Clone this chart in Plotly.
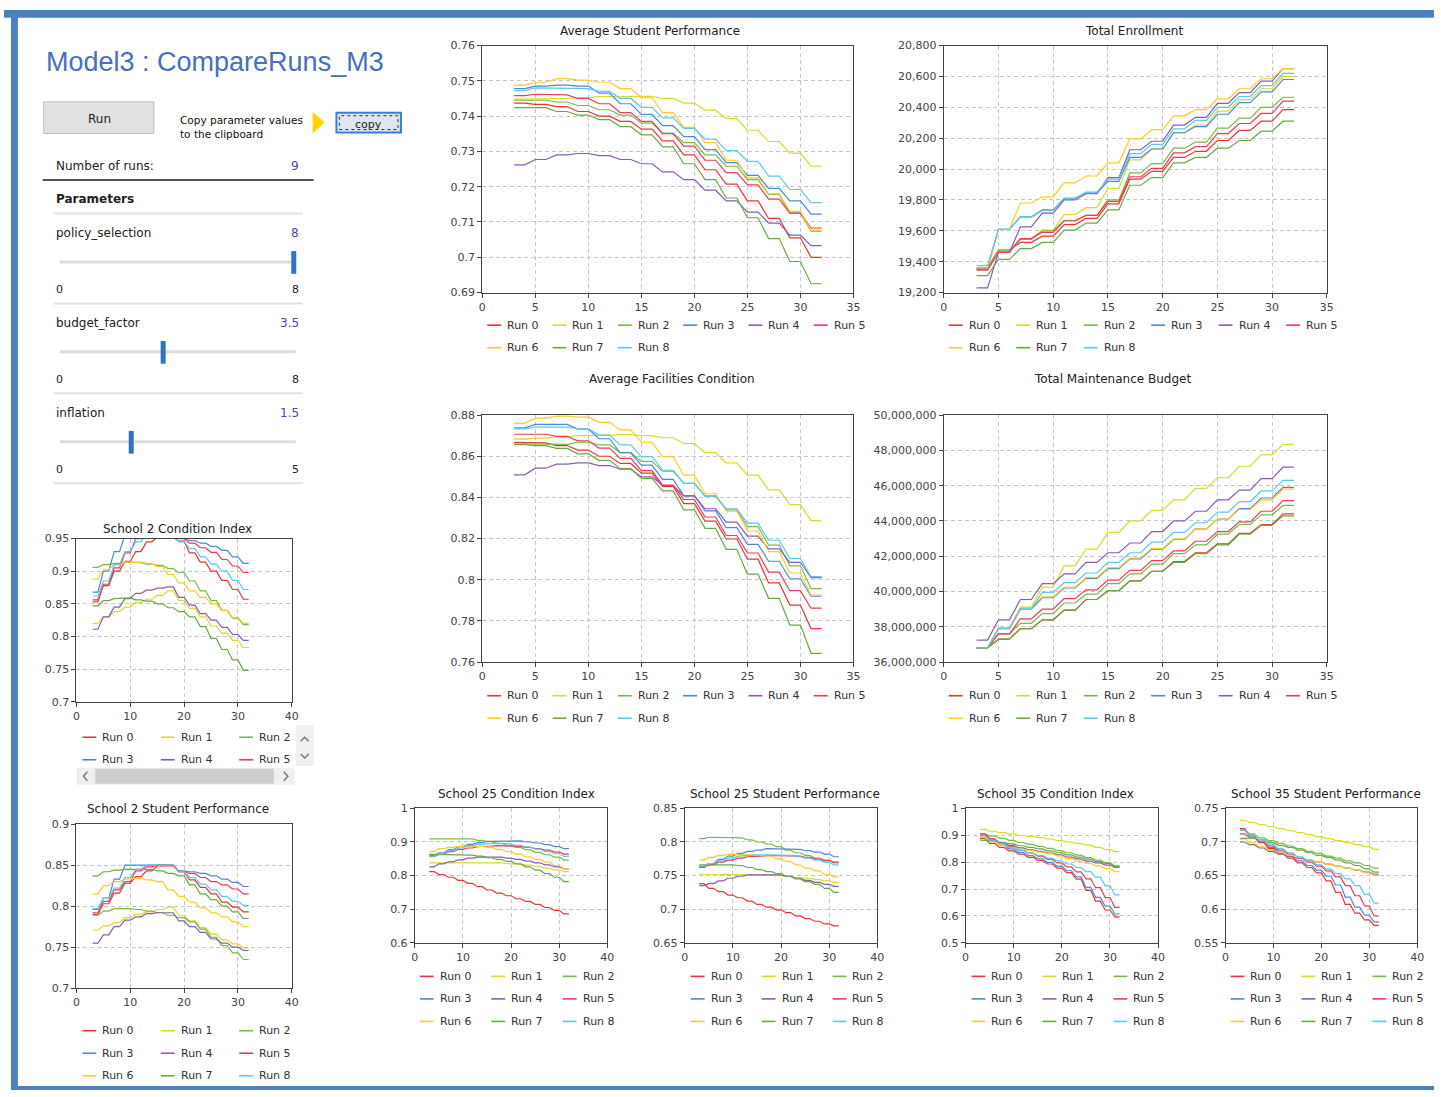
import plotly.graph_objects as go

W, H = 1441, 1097

runs = ["Run 0", "Run 1", "Run 2", "Run 3", "Run 4", "Run 5", "Run 6", "Run 7", "Run 8"]
run_colors = ["#ee3333", "#dada2a", "#77bb44", "#4a8ad8", "#8a5cb4",
              "#ee3a5c", "#ffcc22", "#66aa44", "#5cc8ee"]

# each value is a plateau held from x to x+1
step_x = [3, 5, 7, 9, 11, 13, 15, 17, 19, 21, 23, 25, 27, 29, 31]

avg_student_perf = [
    [0.7437, 0.7433, 0.7427, 0.7413, 0.7400, 0.7385, 0.7363, 0.7330, 0.7290, 0.7248, 0.7207, 0.7160, 0.7110, 0.7055, 0.7000],
    [0.7448, 0.7450, 0.7450, 0.7452, 0.7455, 0.7457, 0.7456, 0.7450, 0.7437, 0.7417, 0.7393, 0.7360, 0.7328, 0.7295, 0.7258],
    [0.7445, 0.7445, 0.7440, 0.7430, 0.7418, 0.7403, 0.7380, 0.7352, 0.7325, 0.7290, 0.7258, 0.7220, 0.7178, 0.7125, 0.7074],
    [0.7478, 0.7485, 0.7488, 0.7485, 0.7465, 0.7435, 0.7405, 0.7373, 0.7342, 0.7305, 0.7268, 0.7232, 0.7195, 0.7160, 0.7122],
    [0.7262, 0.7277, 0.7290, 0.7294, 0.7288, 0.7277, 0.7265, 0.7242, 0.7220, 0.7190, 0.7160, 0.7128, 0.7097, 0.7063, 0.7033],
    [0.7458, 0.7462, 0.7460, 0.7450, 0.7435, 0.7410, 0.7385, 0.7350, 0.7315, 0.7275, 0.7240, 0.7205, 0.7165, 0.7125, 0.7083],
    [0.7488, 0.7496, 0.7506, 0.7502, 0.7496, 0.7478, 0.7452, 0.7410, 0.7368, 0.7325, 0.7275, 0.7225, 0.7180, 0.7130, 0.7077],
    [0.7424, 0.7424, 0.7413, 0.7403, 0.7390, 0.7370, 0.7347, 0.7313, 0.7265, 0.7220, 0.7168, 0.7112, 0.7053, 0.6988, 0.6925],
    [0.7472, 0.7480, 0.7480, 0.7478, 0.7470, 0.7450, 0.7425, 0.7395, 0.7365, 0.7335, 0.7302, 0.7272, 0.7230, 0.7192, 0.7155],
]

total_enrollment = [
    [19360, 19475, 19525, 19565, 19640, 19680, 19775, 19935, 19985, 20075, 20115, 20185, 20250, 20310, 20385],
    [19350, 19470, 19550, 19605, 19705, 19750, 19875, 20060, 20130, 20235, 20285, 20375, 20450, 20520, 20600],
    [19350, 19470, 19545, 19600, 19665, 19700, 19800, 19975, 20035, 20135, 20175, 20265, 20330, 20400, 20465],
    [19355, 19610, 19690, 19735, 19810, 19845, 19920, 20075, 20130, 20235, 20275, 20355, 20430, 20500, 20580],
    [19230, 19460, 19625, 19715, 19800, 19840, 19945, 20125, 20180, 20285, 20335, 20425, 20495, 20570, 20650],
    [19345, 19460, 19550, 19590, 19665, 19700, 19790, 19950, 20005, 20105, 20145, 20230, 20295, 20360, 20440],
    [19360, 19610, 19780, 19820, 19910, 19955, 20040, 20195, 20255, 20345, 20385, 20455, 20520, 20585, 20650],
    [19310, 19415, 19485, 19525, 19605, 19650, 19735, 19895, 19945, 20040, 20075, 20135, 20185, 20245, 20310],
    [19375, 19610, 19690, 19730, 19810, 19850, 19935, 20100, 20160, 20260, 20315, 20400, 20470, 20540, 20620],
]

avg_facilities = [
    [0.8667, 0.8665, 0.8652, 0.8630, 0.8600, 0.8565, 0.8518, 0.8453, 0.8370, 0.8285, 0.8198, 0.8100, 0.7985, 0.7877, 0.7763],
    [0.8683, 0.8688, 0.8693, 0.8700, 0.8703, 0.8705, 0.8700, 0.8690, 0.8662, 0.8618, 0.8568, 0.8508, 0.8437, 0.8365, 0.8287],
    [0.8660, 0.8660, 0.8658, 0.8668, 0.8655, 0.8618, 0.8575, 0.8528, 0.8468, 0.8408, 0.8340, 0.8258, 0.8168, 0.8068, 0.7957],
    [0.8738, 0.8755, 0.8755, 0.8732, 0.8685, 0.8617, 0.8557, 0.8488, 0.8408, 0.8335, 0.8253, 0.8172, 0.8090, 0.8005, 0.7920],
    [0.8510, 0.8542, 0.8562, 0.8568, 0.8555, 0.8537, 0.8500, 0.8458, 0.8408, 0.8345, 0.8280, 0.8212, 0.8150, 0.8085, 0.8010],
    [0.8707, 0.8707, 0.8697, 0.8675, 0.8640, 0.8590, 0.8530, 0.8460, 0.8390, 0.8305, 0.8215, 0.8130, 0.8037, 0.7947, 0.7862],
    [0.8760, 0.8785, 0.8795, 0.8790, 0.8765, 0.8728, 0.8668, 0.8598, 0.8508, 0.8418, 0.8333, 0.8237, 0.8137, 0.8033, 0.7925],
    [0.8657, 0.8652, 0.8638, 0.8612, 0.8580, 0.8540, 0.8493, 0.8432, 0.8340, 0.8250, 0.8148, 0.8027, 0.7910, 0.7780, 0.7643],
    [0.8733, 0.8742, 0.8742, 0.8733, 0.8703, 0.8655, 0.8598, 0.8532, 0.8468, 0.8405, 0.8345, 0.8275, 0.8192, 0.8103, 0.8015],
]

maintenance_budget = [
    [36.80e6, 37.30e6, 37.90e6, 38.40e6, 38.95e6, 39.55e6, 40.05e6, 40.60e6, 41.15e6, 41.70e6, 42.20e6, 42.70e6, 43.30e6, 43.80e6, 44.40e6],
    [36.80e6, 37.95e6, 39.10e6, 40.25e6, 41.45e6, 42.40e6, 43.35e6, 44.00e6, 44.60e6, 45.20e6, 45.85e6, 46.45e6, 47.10e6, 47.75e6, 48.34e6],
    [36.80e6, 37.60e6, 38.20e6, 38.75e6, 39.35e6, 39.85e6, 40.45e6, 41.00e6, 41.55e6, 42.15e6, 42.65e6, 43.25e6, 43.80e6, 44.35e6, 44.88e6],
    [36.80e6, 37.90e6, 39.00e6, 39.65e6, 40.20e6, 40.75e6, 41.30e6, 41.85e6, 42.40e6, 42.95e6, 43.55e6, 44.10e6, 44.70e6, 45.30e6, 45.90e6],
    [37.25e6, 38.40e6, 39.55e6, 40.45e6, 41.00e6, 41.65e6, 42.20e6, 42.75e6, 43.40e6, 44.00e6, 44.55e6, 45.20e6, 45.75e6, 46.40e6, 47.05e6],
    [36.80e6, 37.60e6, 38.45e6, 39.00e6, 39.60e6, 40.10e6, 40.65e6, 41.20e6, 41.75e6, 42.30e6, 42.85e6, 43.40e6, 43.95e6, 44.55e6, 45.15e6],
    [36.80e6, 37.95e6, 39.10e6, 39.70e6, 40.25e6, 40.80e6, 41.35e6, 41.90e6, 42.45e6, 42.98e6, 43.55e6, 44.10e6, 44.65e6, 45.20e6, 45.80e6],
    [36.80e6, 37.30e6, 37.90e6, 38.40e6, 38.95e6, 39.55e6, 40.05e6, 40.60e6, 41.15e6, 41.65e6, 42.15e6, 42.65e6, 43.25e6, 43.75e6, 44.29e6],
    [36.80e6, 37.90e6, 39.00e6, 39.95e6, 40.50e6, 41.05e6, 41.65e6, 42.20e6, 42.80e6, 43.35e6, 43.90e6, 44.50e6, 45.10e6, 45.70e6, 46.30e6],
]

school2_condition = [
    [0.856, 0.878, 0.900, 0.915, 0.930, 0.945, 0.952, 0.952, 0.946, 0.928, 0.914, 0.900, 0.886, 0.872, 0.857],
    [0.820, 0.830, 0.838, 0.845, 0.852, 0.857, 0.863, 0.870, 0.855, 0.843, 0.830, 0.816, 0.805, 0.794, 0.783],
    [0.906, 0.910, 0.912, 0.914, 0.913, 0.911, 0.909, 0.904, 0.898, 0.885, 0.870, 0.855, 0.840, 0.828, 0.818],
    [0.868, 0.900, 0.930, 0.955, 0.970, 0.975, 0.972, 0.962, 0.951, 0.947, 0.943, 0.938, 0.932, 0.922, 0.912],
    [0.811, 0.830, 0.845, 0.858, 0.866, 0.871, 0.874, 0.876, 0.860, 0.848, 0.835, 0.825, 0.814, 0.803, 0.794],
    [0.853, 0.880, 0.905, 0.928, 0.950, 0.962, 0.966, 0.960, 0.950, 0.943, 0.936, 0.929, 0.918, 0.908, 0.898],
    [0.888, 0.903, 0.910, 0.914, 0.914, 0.912, 0.907, 0.895, 0.882, 0.870, 0.860, 0.850, 0.840, 0.829, 0.820],
    [0.847, 0.855, 0.858, 0.859, 0.856, 0.854, 0.850, 0.844, 0.838, 0.830, 0.815, 0.797, 0.780, 0.764, 0.748],
    [0.862, 0.885, 0.910, 0.930, 0.945, 0.958, 0.962, 0.955, 0.945, 0.935, 0.922, 0.911, 0.900, 0.886, 0.872],
]

school2_performance = [
    [0.790, 0.803, 0.816, 0.828, 0.836, 0.843, 0.849, 0.849, 0.842, 0.832, 0.823, 0.815, 0.805, 0.799, 0.793],
    [0.771, 0.776, 0.780, 0.786, 0.790, 0.793, 0.796, 0.799, 0.789, 0.782, 0.774, 0.766, 0.759, 0.754, 0.749],
    [0.789, 0.794, 0.797, 0.797, 0.796, 0.794, 0.792, 0.789, 0.786, 0.781, 0.772, 0.762, 0.752, 0.743, 0.735],
    [0.796, 0.810, 0.833, 0.850, 0.850, 0.850, 0.850, 0.850, 0.843, 0.842, 0.840, 0.837, 0.833, 0.829, 0.824],
    [0.755, 0.765, 0.775, 0.783, 0.787, 0.791, 0.792, 0.792, 0.782, 0.775, 0.768, 0.760, 0.755, 0.750, 0.746],
    [0.792, 0.806, 0.820, 0.830, 0.843, 0.848, 0.850, 0.850, 0.842, 0.840, 0.835, 0.830, 0.826, 0.821, 0.815],
    [0.815, 0.825, 0.830, 0.833, 0.834, 0.832, 0.830, 0.820, 0.812, 0.805, 0.798, 0.792, 0.787, 0.781, 0.775],
    [0.837, 0.842, 0.844, 0.845, 0.845, 0.845, 0.843, 0.840, 0.837, 0.826, 0.815, 0.808, 0.800, 0.793, 0.785],
    [0.797, 0.810, 0.822, 0.835, 0.845, 0.850, 0.850, 0.850, 0.842, 0.835, 0.827, 0.820, 0.812, 0.806, 0.801],
]

school25_condition = [
    [0.812, 0.803, 0.795, 0.786, 0.777, 0.767, 0.757, 0.748, 0.740, 0.731, 0.723, 0.714, 0.705, 0.696, 0.686],
    [0.838, 0.838, 0.839, 0.839, 0.839, 0.839, 0.839, 0.838, 0.836, 0.834, 0.831, 0.827, 0.822, 0.817, 0.812],
    [0.909, 0.911, 0.911, 0.911, 0.909, 0.905, 0.901, 0.896, 0.890, 0.884, 0.877, 0.869, 0.862, 0.855, 0.846],
    [0.860, 0.868, 0.877, 0.886, 0.893, 0.898, 0.902, 0.904, 0.904, 0.903, 0.900, 0.897, 0.892, 0.886, 0.880],
    [0.826, 0.835, 0.841, 0.847, 0.852, 0.855, 0.856, 0.855, 0.852, 0.848, 0.843, 0.838, 0.832, 0.826, 0.820],
    [0.856, 0.863, 0.871, 0.878, 0.882, 0.886, 0.888, 0.889, 0.889, 0.887, 0.884, 0.880, 0.876, 0.870, 0.864],
    [0.871, 0.880, 0.884, 0.887, 0.888, 0.887, 0.884, 0.878, 0.871, 0.864, 0.856, 0.848, 0.840, 0.830, 0.820],
    [0.863, 0.863, 0.862, 0.862, 0.861, 0.858, 0.853, 0.848, 0.842, 0.835, 0.826, 0.816, 0.806, 0.795, 0.782],
    [0.857, 0.865, 0.874, 0.882, 0.889, 0.893, 0.895, 0.896, 0.894, 0.890, 0.885, 0.879, 0.872, 0.865, 0.857],
]

school25_performance = [
    [0.738, 0.731, 0.726, 0.721, 0.717, 0.712, 0.707, 0.703, 0.699, 0.695, 0.690, 0.686, 0.682, 0.678, 0.675],
    [0.752, 0.751, 0.751, 0.752, 0.752, 0.752, 0.752, 0.751, 0.750, 0.749, 0.747, 0.746, 0.744, 0.742, 0.740],
    [0.805, 0.807, 0.807, 0.807, 0.806, 0.803, 0.800, 0.797, 0.793, 0.788, 0.784, 0.780, 0.776, 0.773, 0.769],
    [0.764, 0.768, 0.774, 0.779, 0.783, 0.786, 0.788, 0.790, 0.790, 0.790, 0.789, 0.787, 0.785, 0.782, 0.778],
    [0.735, 0.738, 0.742, 0.746, 0.749, 0.751, 0.752, 0.752, 0.751, 0.749, 0.746, 0.743, 0.740, 0.737, 0.734],
    [0.762, 0.766, 0.770, 0.773, 0.776, 0.778, 0.779, 0.780, 0.780, 0.780, 0.779, 0.777, 0.775, 0.772, 0.770],
    [0.773, 0.777, 0.780, 0.782, 0.782, 0.781, 0.780, 0.779, 0.775, 0.771, 0.766, 0.761, 0.757, 0.752, 0.748],
    [0.766, 0.767, 0.767, 0.766, 0.765, 0.762, 0.759, 0.756, 0.753, 0.749, 0.745, 0.741, 0.737, 0.731, 0.725],
    [0.765, 0.768, 0.772, 0.776, 0.779, 0.780, 0.781, 0.781, 0.781, 0.780, 0.778, 0.776, 0.773, 0.770, 0.766],
]

school35_condition = [
    [0.888, 0.870, 0.855, 0.842, 0.830, 0.818, 0.806, 0.793, 0.778, 0.761, 0.737, 0.695, 0.655, 0.622, 0.596],
    [0.922, 0.915, 0.910, 0.905, 0.900, 0.896, 0.891, 0.886, 0.880, 0.875, 0.869, 0.863, 0.855, 0.847, 0.839],
    [0.905, 0.897, 0.889, 0.881, 0.873, 0.866, 0.859, 0.851, 0.843, 0.835, 0.826, 0.817, 0.808, 0.798, 0.786],
    [0.898, 0.880, 0.864, 0.849, 0.836, 0.824, 0.812, 0.799, 0.785, 0.768, 0.745, 0.706, 0.669, 0.636, 0.607],
    [0.900, 0.885, 0.872, 0.862, 0.853, 0.846, 0.840, 0.834, 0.827, 0.819, 0.812, 0.804, 0.797, 0.789, 0.780],
    [0.905, 0.888, 0.872, 0.858, 0.845, 0.833, 0.822, 0.810, 0.797, 0.782, 0.764, 0.738, 0.705, 0.668, 0.632],
    [0.892, 0.876, 0.864, 0.855, 0.848, 0.843, 0.837, 0.831, 0.823, 0.814, 0.804, 0.795, 0.786, 0.776, 0.765],
    [0.882, 0.880, 0.874, 0.868, 0.861, 0.855, 0.849, 0.842, 0.835, 0.827, 0.819, 0.811, 0.803, 0.795, 0.783],
    [0.900, 0.883, 0.868, 0.855, 0.844, 0.834, 0.825, 0.815, 0.805, 0.793, 0.780, 0.765, 0.744, 0.712, 0.678],
]

school35_performance = [
    [0.720, 0.710, 0.699, 0.690, 0.683, 0.676, 0.669, 0.662, 0.654, 0.642, 0.625, 0.607, 0.594, 0.584, 0.576],
    [0.732, 0.729, 0.726, 0.723, 0.720, 0.717, 0.714, 0.711, 0.708, 0.705, 0.702, 0.699, 0.696, 0.693, 0.689],
    [0.718, 0.712, 0.706, 0.702, 0.698, 0.694, 0.690, 0.686, 0.683, 0.679, 0.676, 0.672, 0.669, 0.665, 0.661],
    [0.718, 0.709, 0.700, 0.692, 0.685, 0.678, 0.672, 0.665, 0.658, 0.649, 0.636, 0.618, 0.603, 0.591, 0.581],
    [0.700, 0.696, 0.691, 0.686, 0.682, 0.679, 0.676, 0.673, 0.670, 0.667, 0.664, 0.661, 0.658, 0.655, 0.652],
    [0.712, 0.707, 0.700, 0.694, 0.688, 0.682, 0.676, 0.670, 0.664, 0.657, 0.648, 0.635, 0.620, 0.605, 0.590],
    [0.705, 0.699, 0.693, 0.688, 0.684, 0.680, 0.677, 0.673, 0.670, 0.667, 0.664, 0.661, 0.658, 0.654, 0.650],
    [0.705, 0.706, 0.703, 0.699, 0.695, 0.692, 0.688, 0.684, 0.680, 0.677, 0.673, 0.669, 0.665, 0.660, 0.655],
    [0.718, 0.710, 0.703, 0.696, 0.690, 0.684, 0.678, 0.672, 0.666, 0.660, 0.653, 0.645, 0.635, 0.622, 0.609],
]

param_names = ["policy_selection", "budget_factor", "inflation"]
param_values = [8, 3.5, 1.5]
param_max = [8, 8, 5]
n_runs = 9

FONT = "DejaVu Sans"

# chart frames in page pixels: (left, top, right, bottom)
charts = [
    dict(title="Average Student Performance", data=avg_student_perf, box=(482, 40, 856, 290),
         yr=(0.69, 0.76), dy=0.01, xr=(0, 35), dx=5, fmt="", tpos=(651, 25),
         leg=dict(x0=487, step=65.8, y0=323, cols=6, n=9)),
    dict(title="Total Enrollment", data=total_enrollment, box=(947, 40, 1333, 290),
         yr=(19200, 20800), dy=200, xr=(0, 35), dx=5, fmt=",", tpos=(1139, 25),
         leg=dict(x0=952, step=68, y0=323, cols=6, n=9)),
    dict(title="Average Facilities Condition", data=avg_facilities, box=(482, 414, 856, 664),
         yr=(0.76, 0.88), dy=0.02, xr=(0, 35), dx=5, fmt="", tpos=(673, 377),
         leg=dict(x0=487, step=65.8, y0=698, cols=6, n=9)),
    dict(title="Total Maintenance Budget", data=maintenance_budget, box=(947, 414, 1333, 664),
         yr=(36e6, 50e6), dy=2e6, xr=(0, 35), dx=5, fmt=",", tpos=(1117, 377),
         leg=dict(x0=952, step=68, y0=698, cols=6, n=9)),
    dict(title="School 2 Condition Index", data=school2_condition, box=(73, 539, 290, 704),
         yr=(0.7, 0.95), dy=0.05, xr=(0, 40), dx=10, fmt="", tpos=(175, 529),
         leg=dict(x0=79, step=79, y0=740, cols=3, n=6)),
    dict(title="School 2 Student Performance", data=school2_performance, box=(73, 828, 290, 994),
         yr=(0.7, 0.9), dy=0.05, xr=(0, 40), dx=10, fmt="", tpos=(175, 813),
         leg=dict(x0=79, step=79, y0=1037, cols=3, n=9)),
    dict(title="School 25 Condition Index", data=school25_condition, box=(414, 812, 608, 948),
         yr=(0.6, 1.0), dy=0.1, xr=(0, 40), dx=10, fmt="", tpos=(516, 797),
         leg=dict(x0=419, step=72, y0=982, cols=3, n=9)),
    dict(title="School 25 Student Performance", data=school25_performance, box=(686, 812, 880, 948),
         yr=(0.65, 0.85), dy=0.05, xr=(0, 40), dx=10, fmt="", tpos=(787, 797),
         leg=dict(x0=692, step=71.5, y0=982, cols=3, n=9)),
    dict(title="School 35 Condition Index", data=school35_condition, box=(969, 812, 1163, 948),
         yr=(0.5, 1.0), dy=0.1, xr=(0, 40), dx=10, fmt="", tpos=(1060, 797),
         leg=dict(x0=975, step=71.5, y0=982, cols=3, n=9)),
    dict(title="School 35 Student Performance", data=school35_performance, box=(1231, 812, 1424, 948),
         yr=(0.55, 0.75), dy=0.05, xr=(0, 40), dx=10, fmt="", tpos=(1332, 797),
         leg=dict(x0=1236, step=71.5, y0=982, cols=3, n=9)),
]

shapes, notes = [], []


def px(x):
    return x / W


def py(y):
    return 1 - y / H


def rect(x0, y0, x1, y1, fill, line_color=None, line_width=0, dash=None):
    shapes.append(dict(type="rect", xref="paper", yref="paper",
                       x0=px(x0), x1=px(x1), y0=py(y1), y1=py(y0), fillcolor=fill,
                       line=dict(color=line_color or fill, width=line_width, dash=dash)))


def seg(x0, y0, x1, y1, color, width=1.0):
    shapes.append(dict(type="line", xref="paper", yref="paper",
                       x0=px(x0), y0=py(y0), x1=px(x1), y1=py(y1),
                       line=dict(color=color, width=width)))


def poly(points, color, width=1.0, fill=None):
    d = "M " + " L ".join(f"{px(x):.5f},{py(y):.5f}" for x, y in points)
    if fill:
        d += " Z"
    shapes.append(dict(type="path", xref="paper", yref="paper", path=d,
                       line=dict(color=color, width=width), fillcolor=fill))


def text(x, y, s, size=12, color="#222", anchor="left", family=FONT):
    notes.append(dict(xref="paper", yref="paper", x=px(x), y=py(y), text=s,
                      showarrow=False, xanchor=anchor, yanchor="middle",
                      font=dict(family=family, size=size, color=color)))


fig = go.Figure()
layout_axes = {}

for i, c in enumerate(charts):
    sfx = "" if i == 0 else str(i + 1)
    left, top, right, bottom = c["box"]
    for r, vals in enumerate(c["data"]):
        xs, ys = [], []
        for x0, v in zip(step_x, vals):
            xs += [x0, x0 + 1]
            ys += [v, v]
        fig.add_trace(go.Scatter(x=xs, y=ys, mode="lines", name=runs[r],
                                 line=dict(color=run_colors[r], width=1.2),
                                 xaxis="x" + sfx, yaxis="y" + sfx, showlegend=False,
                                 hoverinfo="skip"))
    common = dict(showgrid=True, gridcolor="#c6c6c6", griddash="4px,3px", gridwidth=1,
                  showline=True, mirror=True, linecolor="#444", linewidth=1,
                  ticks="outside", ticklen=4, tickcolor="#444", zeroline=False,
                  tickfont=dict(family=FONT, size=11, color="#444"), fixedrange=True)
    layout_axes["xaxis" + sfx] = dict(common, domain=[px(left), px(right)], anchor="y" + sfx,
                                      range=list(c["xr"]), tick0=0, dtick=c["dx"])
    layout_axes["yaxis" + sfx] = dict(common, domain=[py(bottom), py(top)], anchor="x" + sfx,
                                      range=list(c["yr"]), tick0=c["yr"][0], dtick=c["dy"],
                                      tickformat=c["fmt"])
    text(c["tpos"][0], c["tpos"][1], c["title"], size=12, color="#222", anchor="center")
    lg = c["leg"]
    for k in range(lg["n"]):
        lx = lg["x0"] + lg["step"] * (k % lg["cols"])
        ly = lg["y0"] + 22.8 * (k // lg["cols"])
        seg(lx, ly, lx + 14, ly, run_colors[k], 1.6)
        text(lx + 18, ly, runs[k], size=11, color="#333")

# scroll bars under the School 2 Condition Index legend
rect(294, 728, 312, 769, "#f0f0f0")
poly([(299, 744), (303, 740), (307, 744)], "#777", 1.5)
poly([(299, 757), (303, 761), (307, 757)], "#777", 1.5)
rect(73, 771, 293, 788, "#f0f0f0")
rect(92, 772, 272, 787, "#cdcdcd")
poly([(84, 775), (80, 779.5), (84, 784)], "#777", 1.5)
poly([(282, 775), (286, 779.5), (282, 784)], "#777", 1.5)

# page frame
rect(0, 4, W, 12, "#4a80c2")
rect(7, 4, 14, H, "#4a80c2")
rect(7, 1093, W, H, "#4a80c2")

# left control panel
text(40, 57, "Model3 : CompareRuns_M3", size=27, color="#4a6ebe", family="Liberation Sans")
rect(40, 97, 151, 129, "#e1e1e1", "#bdbdbd", 1)
text(96, 114, "Run", size=12, color="#222", anchor="center")
text(175, 115, "Copy parameter values", size=10.5, color="#111")
text(175, 130, "to the clipboard", size=10.5, color="#111")
poly([(311, 107), (323, 118), (311, 129)], "#ffd400", 0, fill="#ffd400")
rect(335, 108, 400, 128, "#dfe6f0", "#3b7dd8", 2)
rect(338, 111, 397, 125, "rgba(0,0,0,0)", "#333", 1, "dot")
text(367, 120, "copy", size=11, color="#222", anchor="center")

text(50, 162, "Number of runs:", size=12)
text(299, 162, str(n_runs), size=12, color="#4a4aa8", anchor="right")
seg(39, 176, 312, 176, "#555", 2)
text(50, 195, "<b>Parameters</b>", size=12)
seg(50, 210, 301, 210, "#e2e2e2", 2)

for j, (name, val, vmax) in enumerate(zip(param_names, param_values, param_max)):
    base = 230 + 91 * j
    text(50, base, name, size=12)
    text(299, base, str(val), size=12, color="#4a4aa8", anchor="right")
    ty = base + 29
    seg(56, ty, 294, ty, "#dcdcdc", 3)
    tx = 58 + (292 - 58) * val / vmax
    rect(tx - 2.5, ty - 11, tx + 2.5, ty + 12, "#2f74c0")
    text(50, base + 57, "0", size=11)
    text(299, base + 57, str(vmax), size=11, anchor="right")
    seg(50, base + 71, 301, base + 71, "#e2e2e2", 2)

fig.update_layout(
    width=W, height=H, margin=dict(l=0, r=0, t=0, b=0),
    paper_bgcolor="white", plot_bgcolor="white",
    showlegend=False, shapes=shapes, annotations=notes,
    **layout_axes,
)

fig.write_html("out.html", config={"displayModeBar": False},
               post_script="document.body.style.margin='0';document.body.style.overflow='hidden';")
